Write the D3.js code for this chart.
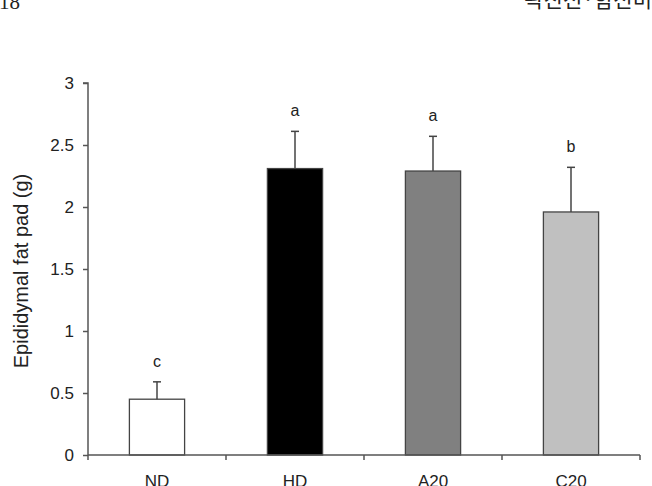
<!DOCTYPE html>
<html>
<head>
<meta charset="utf-8">
<script src="https://cdn.jsdelivr.net/npm/d3@7"></script>
<style>
  html, body { margin: 0; padding: 0; background: #fff; }
  svg { display: block; }
</style>
</head>
<body>
<script>
const categories = ["ND", "HD", "A20", "C20"];
const means = [0.45, 2.31, 2.29, 1.96];
const errors = [0.14, 0.30, 0.28, 0.36];
const letters = ["c", "a", "a", "b"];
const fills = ["#ffffff", "#000000", "#808080", "#c0c0c0"];
const yTicks = [0, 0.5, 1, 1.5, 2, 2.5, 3];

(function () {
const W = 652, H = 486;
const svg = d3.select("body").append("svg").attr("width", W).attr("height", H);

// partial page header (cut off at the top, as in the source page)
svg.append("text").attr("x", -1).attr("y", 9)
  .attr("font-family", "Liberation Serif, serif").attr("font-size", 21).attr("fill", "#222")
  .text("18");
svg.append("text").attr("x", 652).attr("y", 7).attr("text-anchor", "end")
  .attr("font-family", "Noto Sans CJK KR, sans-serif").attr("font-size", 21).attr("fill", "#222")
  .text("곽진선·함선미");

const mLeft = 88, mRight = 640, mTop = 83, mBottom = 455;
const x = d3.scaleBand().domain(categories).range([mLeft, mRight]).padding(0);
const y = d3.scaleLinear().domain([0, 3]).range([mBottom, mTop]);
const barW = x.bandwidth() * 0.4;
const axisColor = "#555";
const font = "Liberation Sans, Arial, sans-serif";

// bars
svg.append("g").selectAll("rect").data(categories).join("rect")
  .attr("x", (d) => x(d) + (x.bandwidth() - barW) / 2)
  .attr("y", (d, i) => y(means[i]))
  .attr("width", barW)
  .attr("height", (d, i) => y(0) - y(means[i]))
  .attr("fill", (d, i) => fills[i])
  .attr("stroke", "#444").attr("stroke-width", 1.3);

// error bars
const eg = svg.append("g").attr("stroke", "#444").attr("stroke-width", 1.5);
categories.forEach((c, i) => {
  const cx = x(c) + x.bandwidth() / 2;
  eg.append("line").attr("x1", cx).attr("x2", cx)
    .attr("y1", y(means[i])).attr("y2", y(means[i] + errors[i]));
  eg.append("line").attr("x1", cx - 4).attr("x2", cx + 4)
    .attr("y1", y(means[i] + errors[i])).attr("y2", y(means[i] + errors[i]));
});

// significance letters
svg.append("g").selectAll("text").data(categories).join("text")
  .attr("x", (d) => x(d) + x.bandwidth() / 2)
  .attr("y", (d, i) => y(means[i] + errors[i]) - 15)
  .attr("text-anchor", "middle")
  .attr("font-family", font).attr("font-size", 16).attr("fill", "#222")
  .text((d, i) => letters[i]);

// y axis
const yAxis = d3.axisLeft(y).tickValues(yTicks).tickSize(5).tickPadding(9)
  .tickFormat((d) => String(d));
const yg = svg.append("g").attr("transform", `translate(${mLeft},0)`).call(yAxis);
yg.select(".domain").attr("stroke", axisColor).attr("stroke-width", 1.5).attr("d", `M-5,${mTop}H0V${mBottom}`);
yg.selectAll(".tick line").attr("stroke", axisColor).attr("stroke-width", 1.5);
yg.selectAll(".tick text").attr("font-family", font).attr("font-size", 17).attr("fill", "#222");

// x axis with ticks at band boundaries
const xg = svg.append("g");
xg.append("line").attr("x1", mLeft).attr("x2", mRight).attr("y1", mBottom).attr("y2", mBottom)
  .attr("stroke", axisColor).attr("stroke-width", 1.5);
const boundaries = categories.map((c) => x(c)).concat([mRight]);
xg.selectAll("line.tk").data(boundaries).join("line").attr("class", "tk")
  .attr("x1", (d) => d).attr("x2", (d) => d).attr("y1", mBottom).attr("y2", mBottom + 5)
  .attr("stroke", axisColor).attr("stroke-width", 1.5);
xg.selectAll("text").data(categories).join("text")
  .attr("x", (d) => x(d) + x.bandwidth() / 2).attr("y", 487)
  .attr("text-anchor", "middle")
  .attr("font-family", font).attr("font-size", 17).attr("fill", "#222")
  .text((d) => d);

// y title
svg.append("text")
  .attr("transform", `translate(28,${(mTop + mBottom) / 2 + 2}) rotate(-90)`)
  .attr("text-anchor", "middle")
  .attr("font-family", font).attr("font-size", 20).attr("fill", "#222")
  .text("Epididymal fat pad (g)");
})();
</script>
</body>
</html>
